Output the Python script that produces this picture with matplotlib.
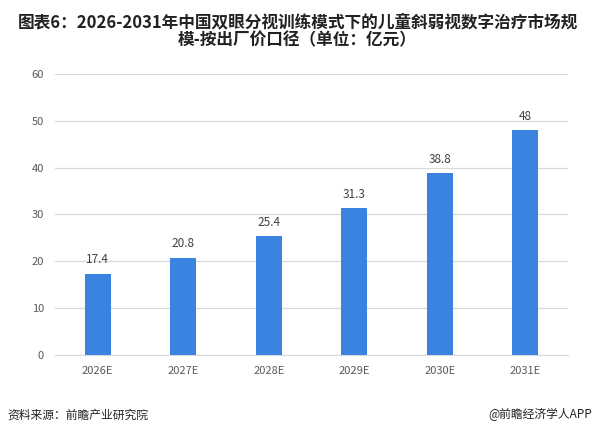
import matplotlib.pyplot as plt

plt.rcParams['font.family'] = ['Noto Sans CJK SC', 'DejaVu Sans']

# 数据
years = ['2026E', '2027E', '2028E', '2029E', '2030E', '2031E']
values = [17.4, 20.8, 25.4, 31.3, 38.8, 48]
value_labels = ['17.4', '20.8', '25.4', '31.3', '38.8', '48']
yticks = [0, 10, 20, 30, 40, 50, 60]

fig = plt.figure(figsize=(5.95, 4.32), dpi=100)
ax = fig.add_axes([0.0924, 0.178, 0.8622, 0.651])

x = range(len(years))
bars = ax.bar(x, values, width=0.30, color='#3A83E0', zorder=3)
for b, lab in zip(bars, value_labels):
    ax.text(b.get_x() + b.get_width() / 2, b.get_height() + 1.6, lab,
            ha='center', va='bottom', fontsize=8.5, color='#404040')

ax.set_xlim(-0.5, len(years) - 0.5)
ax.set_ylim(0, 60)
ax.set_yticks(yticks)
ax.set_xticks(list(x))
ax.set_xticklabels(years)
ax.tick_params(axis='both', length=0, labelsize=8, labelcolor='#595959')
ax.tick_params(axis='y', pad=8)
ax.tick_params(axis='x', pad=8)
ax.grid(axis='y', color='#D9D9D9', linewidth=0.9, zorder=0)
for s in ['top', 'right', 'left']:
    ax.spines[s].set_visible(False)
ax.spines['bottom'].set_color('#D9D9D9')

fig.text(0.5, 0.968, '图表6：2026-2031年中国双眼分视训练模式下的儿童斜弱视数字治疗市场规\n模-按出厂价口径（单位：亿元）',
         ha='center', va='top', fontsize=12, fontweight='bold', color='#222222',
         linespacing=1.0)
fig.text(0.012, 0.04, '资料来源：前瞻产业研究院', ha='left', va='center', fontsize=8.5, color='#222222')
fig.text(0.995, 0.04, '@前瞻经济学人APP', ha='right', va='center', fontsize=8.5, color='#222222')

fig.savefig('out.png', dpi=100)
